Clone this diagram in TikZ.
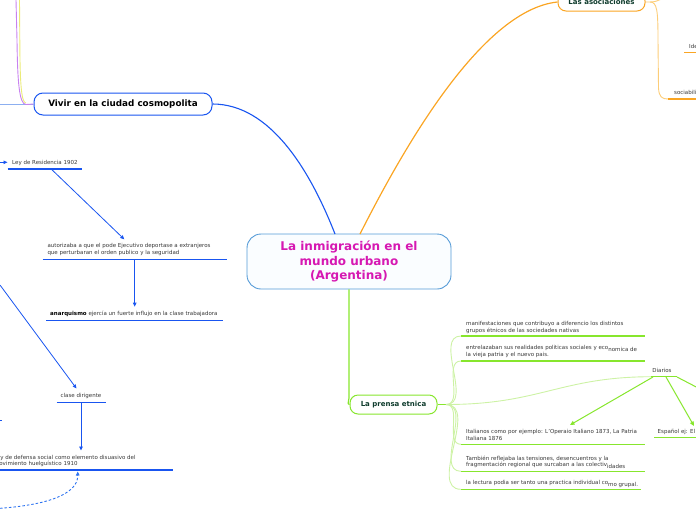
\documentclass[tikz,border=0pt]{standalone}
\usepackage{fontspec}
\setmainfont{DejaVu Sans}
\usetikzlibrary{arrows.meta}
\definecolor{cblue}{RGB}{85,155,215}
\definecolor{cfill}{RGB}{250,253,255}
\definecolor{vblue}{RGB}{25,85,240}
\definecolor{dblue}{RGB}{45,115,240}
\definecolor{lblue}{RGB}{140,175,240}
\definecolor{mag}{RGB}{214,24,178}
\definecolor{orng}{RGB}{250,165,35}
\definecolor{lorng}{RGB}{252,205,120}
\definecolor{grn}{RGB}{135,230,45}
\definecolor{lgrn}{RGB}{205,242,165}
\definecolor{dgreen}{RGB}{15,60,45}
\definecolor{txt}{RGB}{55,55,55}
\definecolor{purp}{RGB}{200,130,240}
\definecolor{yel}{RGB}{235,235,120}
\begin{document}
\begin{tikzpicture}[x=1pt,y=-1pt,
  central/.style={draw=cblue, line width=0.9pt, fill=cfill, rounded corners=14pt,
    minimum width=204pt, minimum height=55pt, inner sep=0pt, align=center,
    text=mag, font=\bfseries\fontsize{12}{14.5}\selectfont},
  topicbox/.style={draw=#1, line width=1pt, fill=white, rounded corners=8pt,
    inner sep=0pt, font=\bfseries\fontsize{7}{8}\selectfont, text=dgreen},
  lbl/.style={inner sep=0pt, align=left, text=txt, font=\fontsize{5.5}{6.5}\selectfont},
  bline/.style={vblue, line width=1.5pt},
  gline/.style={grn, line width=1.4pt},
  barrow/.style={vblue, line width=0.8pt, -{Triangle[length=4pt,width=3.5pt]}},
  garrow/.style={grn, line width=1pt, -{Triangle[length=4.5pt,width=4pt]}},
  lconn/.style={lgrn, line width=0.9pt}
]
\useasboundingbox (0,0) rectangle (696,520);

% ---------- main nodes
\node[central] (c) at (349,261.5) {La inmigración en el\\mundo urbano\\(Argentina)};
\node[draw=vblue, line width=1pt, fill=white, rounded corners=9pt, minimum width=178pt,
  minimum height=22pt, inner sep=0pt, font=\bfseries\fontsize{8.8}{10}\selectfont]
  (v) at (123,104) {Vivir en la ciudad cosmopolita};
\node[topicbox=orng, minimum width=87pt, minimum height=18pt] (a) at (601.5,2) {Las asociaciones};
\node[topicbox=grn, minimum width=87pt, minimum height=19pt] (p) at (393.5,404.5) {La prensa etnica};

% ---------- main connectors
\coordinate (cb) at (335,234);
\coordinate (co) at (360,234);
\draw[vblue, line width=1.1pt] (v.east) .. controls (270,104) and (310,170) .. (cb);
\draw[orng, line width=1.2pt] (co) .. controls (400,155) and (480,10) .. (a.west);
\draw[grn, line width=1.2pt] (c.south) -- (349,398) to[out=-90,in=180] (p.west);

% ---------- left of Vivir
\coordinate (vl) at (0,104);
\coordinate (pt) at (16,0);
\coordinate (yt) at (19.5,0);
\draw[lblue, line width=1pt] (v.west) -- (vl);
\draw[yel, line width=0.9pt] (26,103) .. controls (21,103) and (20,80) .. (19.8,40) -- (yt);
\draw[purp, line width=0.9pt] (v.west) -- (26,104.5) .. controls (19,104.5) and (17.5,80) .. (17,40) -- (pt);

% ---------- Las asociaciones branches
\coordinate (aj) at (650,2);
\coordinate (aup) at (672,-6);
\draw[lorng, line width=0.9pt] (a.east) -- (aj) to[out=0,in=200] (aup);
\draw[lorng, line width=0.9pt] (aj) .. controls (657,2) and (658,10) .. (658,40) -- (658.5,88) .. controls (659,97) and (662,99) .. (668,99);
\node[lbl, anchor=base west] (ide) at (689,48.5) {Ide};
\draw[orng, line width=1.3pt] (684,52.3) -- (696,52.3);
\node[lbl, anchor=base west] (soc) at (674,94.8) {sociabili};
\draw[orng, line width=1.3pt] (668,99) -- (696,99);

% ---------- La prensa etnica
\coordinate (pj) at (446,404.5);
\draw[gline] (p.east) -- (pj);

\node[lbl, anchor=north west] (i1) at (466,321.2) {manifestaciones que contribuyo a diferencio los distintos\\grupos étnicos de las sociedades nativas};
\coordinate (u1) at (461,336);
\draw[gline] (u1) -- (645,336);
\draw[lconn] (pj) to[out=0,in=180] (u1);

\node[lbl, anchor=north west] (i2) at (466,345.5) {entrelazaban sus realidades politicas sociales y eco\raisebox{-1.3pt}{nomica de}\\la vieja patria y el nuevo pais.};
\coordinate (u2) at (461,361);
\draw[gline] (u2) -- (645,361);
\draw[lconn] (pj) to[out=0,in=180] (u2);

\node[lbl, anchor=base] (d) at (662,372.6) {Diarios};
\coordinate (du) at (651,376.7);
\draw[gline] (du) -- (677,376.7);
\draw[lconn] (pj) .. controls (540,404.5) and (560,377) .. (du);

\node[lbl, anchor=north west] (i3) at (466,429.6) {Italianos como por ejemplo: L'Operaio Italiano 1873, La Patria\\Italiana 1876};
\coordinate (u3) at (461,444.3);
\draw[gline] (u3) -- (645,444.3);
\draw[lconn] (pj) to[out=0,in=180] (u3);

\node[lbl, anchor=base west] (esp) at (657.5,433.8) {Español ej: El};
\draw[gline] (654,437.7) -- (696,437.7);

\coordinate (da1) at (653,377);
\coordinate (da2) at (666,377);
\coordinate (da3) at (677,377);
\coordinate (ta1) at (570,425);
\coordinate (ta2) at (694,426);
\coordinate (ta3) at (702,390);
\draw[garrow] (da1) -- (ta1);
\draw[garrow] (da2) -- (ta2);
\draw[grn, line width=1pt] (da3) -- (ta3);

\node[lbl, anchor=north west] (i4) at (466,455.6) {También reflejaba las  tensiones, desencuentros y la\\fragmentación  regional que surcaban a las colectiv\raisebox{-1.3pt}{idades}};
\coordinate (u4) at (461,471.3);
\draw[gline] (u4) -- (645,471.3);
\draw[lconn] (pj) to[out=0,in=180] (u4);

\node[lbl, anchor=north west] (i5) at (466,480.6) {la lectura podia ser tanto una practica individual co\raisebox{-1.3pt}{mo grupal.}};
\coordinate (u5) at (461,489.3);
\draw[gline] (u5) -- (641,489.3);
\draw[lconn] (pj) to[out=0,in=180] (u5);

% ---------- left blue part
\coordinate (lin) at (0,162.3);
\coordinate (lt) at (7.5,162.3);
\draw[barrow] (lin) -- (lt);
\node[lbl, anchor=base west] (ley) at (12,164.1) {Ley de Residencia 1902};
\draw[bline] (7.5,169) -- (81.7,169);

\node[lbl, anchor=north west] (aut) at (47.3,243.6) {autorizaba a que el pode Ejecutivo deportase a extranjeros\\que perturbaran el orden publico y la seguridad};
\draw[bline] (42.7,259.3) -- (226.7,259.3);
\coordinate (lya) at (51.7,169.5);
\coordinate (lyb) at (124.3,239.3);
\draw[barrow] (lya) -- (lyb);

\node[lbl, anchor=base west] (an) at (50,315.8) {\textbf{\color{black}anarquismo} ejercía un fuerte influjo en la clase trabajadora};
\draw[bline] (46,320.7) -- (222.7,320.7);
\coordinate (aua) at (134.7,259.8);
\coordinate (aub) at (134.7,306.7);
\draw[barrow] (aua) -- (aub);

\coordinate (dga) at (0,285);
\coordinate (dgb) at (76.5,388.5);
\draw[barrow] (dga) -- (dgb);
\node[lbl, anchor=base] (cd) at (81,397.5) {clase dirigente};
\draw[bline] (56.7,402.3) -- (105.7,402.3);
\coordinate (cda) at (81,402.8);
\coordinate (cdb) at (81,450.5);
\draw[barrow] (cda) -- (cdb);

\node[lbl, anchor=north west] (def) at (-6.2,454.9) {Ley de defensa social como elemento disuasivo del\\movimiento huelguístico 1910};
\draw[bline] (0,470) -- (173.3,470);

\draw[vblue, line width=1.2pt] (0,420.7) -- (1.5,420.7);
\coordinate (dsa) at (0,508.3);
\coordinate (dsb) at (77.7,471.5);
\draw[dblue, line width=0.9pt, dash pattern=on 2.5pt off 2pt, -{Triangle[length=4pt,width=3.5pt]}]
  (dsa) .. controls (45,505) and (78,495) .. (dsb);
\end{tikzpicture}
\end{document}
